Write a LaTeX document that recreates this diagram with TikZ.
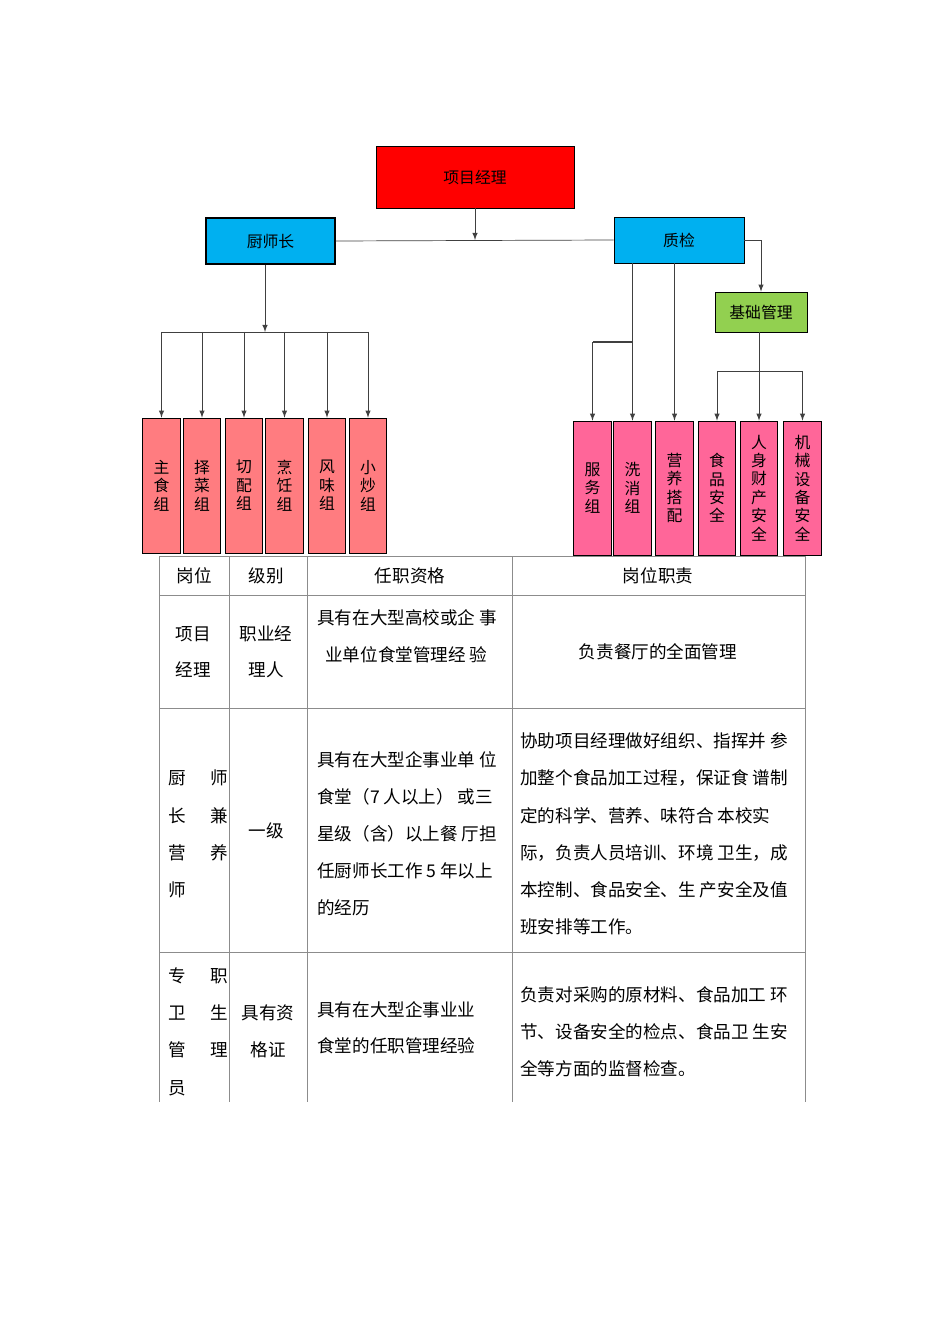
\documentclass[tikz,border=0pt]{standalone}
\usepackage{fontspec}
\setmainfont{Noto Sans CJK SC}
\usetikzlibrary{
  calc
  }

\begin{document}
\begin{tikzpicture}[x=0.02cm, y=-0.02cm]
    \tikzset{box/.style = {draw, thin, inner sep=0pt, font=\fontsize{9}{10.5}\selectfont, align=center},
             grp/.style = {box, fill=salmon, minimum width=0.75cm, minimum height=2.7cm},
             chk/.style = {box, fill=pinkq, minimum width=0.75cm, minimum height=2.68cm},
             arr/.style = {-latex, thin, draw=black!75},
             cell/.style = {font=\fontsize{10}{12}\selectfont, inner sep=0pt},
             rule/.style = {draw=black!45, thin}}
    \definecolor{salmon}{HTML}{FF7C80}
    \definecolor{pinkq}{HTML}{FF6699}
    \definecolor{cyanb}{HTML}{00B0F0}
    \definecolor{greenb}{HTML}{92D050}
    \useasboundingbox (0,0) rectangle (950,1344);
    % vertices
    \node [box, fill=red, minimum width=3.96cm, minimum height=1.24cm] (mgr) at (475,177) {项目经理};
    \node [box, fill=cyanb, minimum width=2.58cm, minimum height=0.92cm, line width=0.8pt] (chef) at (270.5,241) {厨师长};
    \node [box, fill=cyanb, minimum width=2.6cm, minimum height=0.92cm] (qc) at (679,240) {质检};
    \node [box, fill=greenb, minimum width=1.84cm, minimum height=0.8cm] (base) at (761,312) {基础管理};
    % left groups
    \node [grp] (zs) at (161.5,485.5) {主\\食\\组};
    \node [grp] (zc) at (202,485.5) {择\\菜\\组};
    \node [grp] (qp) at (244,485.5) {切\\配\\组};
    \node [grp] (pr) at (284.5,485.5) {烹\\饪\\组};
    \node [grp] (fw) at (327,485.5) {风\\味\\组};
    \node [grp] (xc) at (368,485.5) {小\\炒\\组};
    % right groups
    \node [chk] (fwz) at (592.5,488) {服\\务\\组};
    \node [chk] (xx) at (632.5,488) {洗\\消\\组};
    \node [chk] (yy) at (674.5,488) {营\\养\\搭\\配};
    \node [chk] (sp) at (717,488) {食\\品\\安\\全};
    \node [chk] (rs) at (759,488) {人\\身\\财\\产\\安\\全};
    \node [chk] (jx) at (802.5,488) {机\\械\\设\\备\\安\\全};
    % connectors
    \coordinate (mid) at (475,240);
    \draw [arr] (mgr.south) -- (mid);
    \draw [thin, black!75] (chef.east) -- (qc.east -| qc.west);
    \coordinate (cbus) at (265,332);
    \draw [arr] (chef.south -| cbus) -- (cbus);
    \draw [thin, black!75] (zs.north |- cbus) -- (xc.north |- cbus);
    \foreach \n in {zs,zc,qp,pr,fw,xc}
      \draw [arr] (\n.north |- cbus) -- (\n.north);
    \draw [arr] (qc.south -| xx.north) -- (xx.north);
    \coordinate (sbus) at (632.5,342);
    \draw [thick, black!75] (sbus) -- (fwz.north |- sbus);
    \draw [arr] (fwz.north |- sbus) -- (fwz.north);
    \draw [arr] (qc.south -| yy.north) -- (yy.north);
    \draw [arr] (qc.east) -| (base.north);
    \coordinate (bbus) at (759,371);
    \draw [arr] (base.south -| rs.north) -- (rs.north);
    \draw [thin, black!75] (sp.north |- bbus) -- (jx.north |- bbus);
    \draw [arr] (sp.north |- bbus) -- (sp.north);
    \draw [arr] (jx.north |- bbus) -- (jx.north);
    % table
    \draw [rule] (159,556) -- (805,556) (159,595) -- (805,595) (159,708) -- (805,708) (159,952) -- (805,952);
    \foreach \x in {159,229,307,512,805}
      \draw [rule] (\x,556) -- (\x,1102);
    \node [cell] (h1) at (194,576) {岗位};
    \node [cell] (h2) at (266,576) {级别};
    \node [cell] (h3) at (410,576) {任职资格};
    \node [cell] (h4) at (658,576) {岗位职责};
    % row one
    \node [cell] at (193,634) {项目};
    \node [cell] at (193,670) {经理};
    \node [cell] at (266,634) {职业经};
    \node [cell] at (266,670) {理人};
    \node [cell, anchor=west] at (317,618) {具有在大型高校或企\ 事};
    \node [cell, anchor=west] at (325,655) {业单位食堂管理经\ 验};
    \node [cell] at (658,652) {负责餐厅的全面管理};
    % row two
    \foreach \a/\b/\y in {厨/师/778,长/兼/816,营/养/853} {
      \node [cell] at (177,\y) {\a};
      \node [cell] at (219,\y) {\b};
    }
    \node [cell] at (177,890) {师};
    \node [cell] at (266,831) {一级};
    \foreach \t/\y in {具有在大型企事业单\ 位/760,食堂（7\ 人以上）\ 或三/797,星级（含）以上餐\ 厅担/834,任厨师长工作 5\ 年以上/871,的经历/908}
      \node [cell, anchor=west] at (317,\y) {\t};
    \foreach \t/\y in {协助项目经理做好组织、指挥并\ 参/741,加整个食品加工过程，保证食\ 谱制/778,定的科学、营养、味符合\ 本校实/816,际，负责人员培训、环境\ 卫生，成/853,本控制、食品安全、生\ 产安全及值/890,班安排等工作。/927}
      \node [cell, anchor=west] at (520,\y) {\t};
    % row three
    \foreach \a/\b/\y in {专/职/976,卫/生/1013,管/理/1050} {
      \node [cell] at (177,\y) {\a};
      \node [cell] at (219,\y) {\b};
    }
    \node [cell] at (177,1088) {员};
    \node [cell] at (268,1013) {具有资};
    \node [cell] at (268,1050) {格证};
    \node [cell, anchor=west] at (317,1010) {具有在大型企事业业};
    \node [cell, anchor=west] at (317,1046) {食堂的任职管理经验};
    \node [cell, anchor=west] at (520,995) {负责对采购的原材料、食品加工\ 环};
    \node [cell, anchor=west] at (520,1032) {节、设备安全的检点、食品卫\ 生安};
    \node [cell, anchor=west] at (520,1069) {全等方面的监督检查。};
  \end{tikzpicture}
\end{document}
